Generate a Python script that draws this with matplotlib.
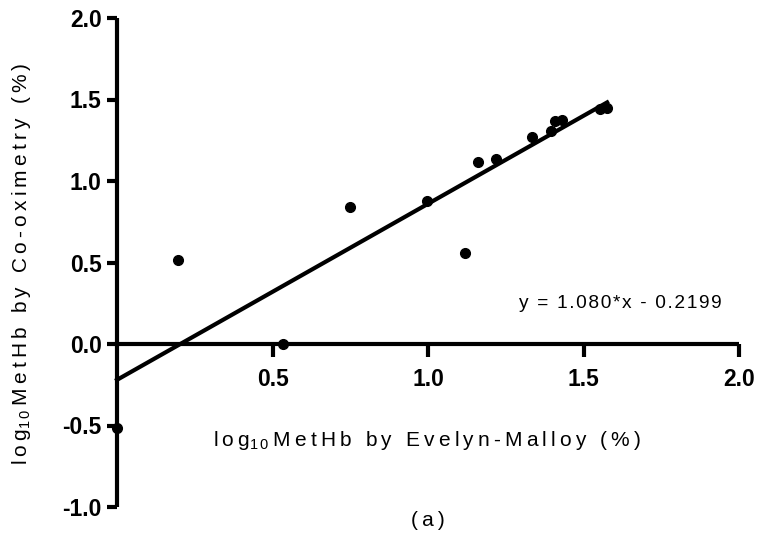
import matplotlib
matplotlib.use("Agg")
import matplotlib.pyplot as plt
import numpy as np

# log10 MetHb, Evelyn-Malloy (x) vs Co-oximetry (y)
em = [0.0, 0.196, 0.534, 0.749, 0.997, 1.119, 1.161, 1.219, 1.334, 1.395, 1.408, 1.431, 1.553, 1.576]
cox = [-0.515, 0.515, 0.0, 0.84, 0.877, 0.558, 1.117, 1.135, 1.27, 1.307, 1.368, 1.374, 1.442, 1.448]
slope = 1.080
intercept = -0.2199

xticks = [0.5, 1.0, 1.5, 2.0]
yticks = [-1.0, -0.5, 0.0, 0.5, 1.0, 1.5, 2.0]

plt.rcParams['font.family'] = ['Liberation Sans', 'DejaVu Sans']
plt.rcParams['mathtext.fontset'] = 'custom'
plt.rcParams['mathtext.rm'] = 'Liberation Sans'

def spaced(s, sep='\u2009'):
    return sep.join(s)

fig = plt.figure(figsize=(7.58, 5.39), dpi=100)
ax = fig.add_axes([117/758, 1 - 507/539, 622/758, 489/539])

ax.plot(em, cox, 'o', color='black', markersize=7, clip_on=False, zorder=3)
xs = np.array([min(em), max(em)])
ax.plot(xs, slope * xs + intercept, color='black', lw=3.0, clip_on=False, zorder=2)

ax.set_xlim(0, 2.0)
ax.set_ylim(-1.0, 2.0)
ax.spines['left'].set_position(('data', 0))
ax.spines['bottom'].set_position(('data', 0))
for s in ['top', 'right']:
    ax.spines[s].set_visible(False)
for s in ['left', 'bottom']:
    ax.spines[s].set_linewidth(3.0)
    ax.spines[s].set_capstyle('butt')

ax.set_xticks(xticks)
ax.set_xticklabels(['%.1f' % v for v in xticks])
ax.set_yticks(yticks)
ax.set_yticklabels(['%.1f' % v for v in yticks])
ax.tick_params(axis='both', direction='out', width=3.0, labelsize=16.5, color='black')
ax.tick_params(axis='x', length=9, pad=8)
ax.tick_params(axis='y', length=7, pad=4)
for lab in ax.get_xticklabels() + ax.get_yticklabels():
    lab.set_fontweight('bold')

fig.text(427/758, 1 - 441/539,
         spaced('log') + r'$_{1\,0}$' + '\u2009' + spaced('MetHb by Evelyn-Malloy (%)'),
         ha='center', va='center', fontsize=15)
fig.text(22/758, 1 - 264/539,
         spaced('log') + r'$_{1\,0}$' + '\u2009' + spaced('MetHb by Co-oximetry (%)'),
         ha='center', va='center', fontsize=15, rotation=90)
fig.text(620/758, 1 - 304/539, spaced('y = 1.080*x - 0.2199', '\u200a'),
         ha='center', va='center', fontsize=13.8)
fig.text(428/758, 1 - 521/539, spaced('(a)'), ha='center', va='center', fontsize=15)

fig.savefig('out.png', dpi=100)
